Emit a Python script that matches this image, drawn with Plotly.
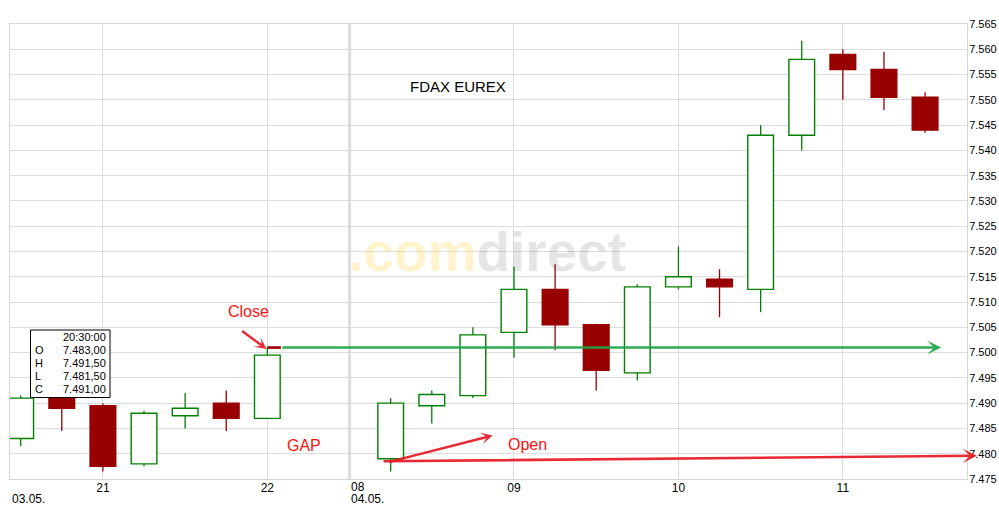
import plotly.graph_objects as go

# ---------------- data ----------------
day1_times = ["20:30", "20:45", "21:00", "21:15", "21:30", "21:45", "22:00"]
day1_open = [7483.0, 7491.5, 7489.5, 7478.0, 7487.5, 7490.0, 7487.0]
day1_high = [7491.5, 7492.5, 7490.0, 7488.5, 7492.0, 7492.5, 7501.0]
day1_low = [7481.5, 7484.5, 7476.5, 7477.5, 7485.0, 7484.5, 7487.0]
day1_close = [7491.0, 7489.0, 7477.5, 7488.0, 7489.0, 7487.0, 7499.5]

day2_times = ["08:15", "08:30", "08:45", "09:00", "09:15", "09:30", "09:45",
              "10:00", "10:15", "10:30", "10:45", "11:00", "11:15", "11:30"]
day2_open = [7479.0, 7489.5, 7491.5, 7504.0, 7512.5, 7505.5, 7496.0,
             7513.0, 7514.5, 7512.5, 7543.0, 7559.0, 7556.0, 7550.5]
day2_high = [7491.0, 7492.5, 7505.0, 7517.0, 7517.5, 7505.7, 7513.5,
             7521.0, 7516.5, 7545.0, 7561.7, 7560.0, 7559.5, 7551.5]
day2_low = [7476.5, 7486.0, 7491.0, 7499.0, 7500.5, 7492.5, 7494.5,
            7512.5, 7507.0, 7508.0, 7540.0, 7550.0, 7548.0, 7543.5]
day2_close = [7490.0, 7491.7, 7503.5, 7512.5, 7505.5, 7496.5, 7513.0,
              7515.0, 7513.0, 7543.0, 7558.0, 7556.0, 7550.5, 7544.0]

hour_ticks = ["21", "22", "09", "10", "11"]
hour_tick_times = [("d1", "21:00"), ("d1", "22:00"), ("d2", "09:00"), ("d2", "10:00"), ("d2", "11:00")]
day_labels = ["03.05.", "04.05."]
tooltip_time = "20:30:00"

close_level = 7501.0   # previous day close
open_level = day2_open[0]

y_ticks = list(range(7475, 7566, 5))

# ---------------- helpers ----------------
def minutes(t):
    h, m = t.split(":")
    return int(h) * 60 + int(m)

D1_START = minutes("20:30")
D2_START = minutes("08:00")
D2_OFFSET = 8  # slot of 08:00 on the compressed time axis


def slot(day, t):
    if day == "d1":
        return (minutes(t) - D1_START) / 15
    return D2_OFFSET + (minutes(t) - D2_START) / 15


xs = [slot("d1", t) for t in day1_times] + [slot("d2", t) for t in day2_times]
O = day1_open + day2_open
H = day1_high + day2_high
L = day1_low + day2_low
C = day1_close + day2_close

GREEN = "#008000"
RED = "#990000"

up = [c >= o for o, c in zip(O, C)]
base = [min(o, c) for o, c in zip(O, C)]
height = [abs(c - o) for o, c in zip(O, C)]
fill = ["white" if u else RED for u in up]
edge = [GREEN if u else RED for u in up]

fig = go.Figure()

# wicks
for flag, col in [(True, GREEN), (False, RED)]:
    wx, wy = [], []
    for x, o, h, l, c, u in zip(xs, O, H, L, C, up):
        if u != flag:
            continue
        top = max(o, c)
        bot = min(o, c)
        wx += [x, x, None, x, x, None]
        wy += [h, top, None, bot, l, None]
    fig.add_trace(go.Scatter(x=wx, y=wy, mode="lines", cliponaxis=False,
                             line=dict(color=col, width=1.3),
                             hoverinfo="skip", showlegend=False))

# bodies
fig.add_trace(go.Bar(x=xs, y=height, base=base, width=0.625, cliponaxis=False,
                     marker=dict(color=fill, line=dict(color=edge, width=1.4)),
                     hoverinfo="skip", showlegend=False))

# ---------------- layout ----------------
W, Hh = 999, 505
PL, PR, PT, PB = 10, 967, 24, 479   # plot area in page pixels
ML, MR, MT, MB = PL, W - PR, PT, Hh - PB
X0, X1 = -0.26, 23.02


def px(xp):
    return (xp - PL) / (PR - PL)


def py(yp):
    return (PB - yp) / (PB - PT)


FONT = "Liberation Sans, Arial, sans-serif"

fig.update_layout(
    width=W, height=Hh,
    margin=dict(l=ML, r=MR, t=MT, b=MB, autoexpand=False),
    paper_bgcolor="white", plot_bgcolor="white",
    separators=",.",
    barmode="overlay",
    showlegend=False,
    hovermode=False,
    font=dict(family=FONT, size=12, color="#000000"),
    xaxis=dict(range=[X0, X1], tickvals=[slot(d, t) for d, t in hour_tick_times],
               ticktext=hour_ticks, showgrid=True, gridcolor="#dcdcdc", gridwidth=1,
               showline=True, mirror=True, linecolor="#d6d6d6", linewidth=1,
               zeroline=False, ticks="", tickfont=dict(size=12, color="#000"),
               ticklabelstandoff=-2, automargin=False, fixedrange=True),
    yaxis=dict(range=[7475, 7565], side="right", tickvals=y_ticks, tickformat=",.0f",
               showgrid=True, gridcolor="#dcdcdc", gridwidth=1,
               showline=True, mirror=True, linecolor="#d6d6d6", linewidth=1,
               zeroline=False, ticks="", tickfont=dict(size=11, color="#000"),
               ticklabelstandoff=-1, automargin=False, fixedrange=True),
)

# day separator
fig.add_shape(type="line", xref="x", yref="paper", x0=D2_OFFSET, x1=D2_OFFSET, y0=0, y1=1,
              line=dict(color="#dddddd", width=3), layer="below")

# day labels under axis
fig.add_annotation(xref="paper", yref="paper", x=0, y=py(499.3), text=day_labels[0],
                   showarrow=False, xanchor="left", yanchor="middle", font=dict(size=12))
fig.add_annotation(xref="x", yref="paper", x=D2_OFFSET, y=py(487.5), text="08",
                   showarrow=False, xanchor="left", yanchor="middle", font=dict(size=12), xshift=-1)
fig.add_annotation(xref="x", yref="paper", x=D2_OFFSET, y=py(499.3), text=day_labels[1],
                   showarrow=False, xanchor="left", yanchor="middle", font=dict(size=12), xshift=-1)

# watermark
fig.add_annotation(xref="paper", yref="paper", x=px(487), y=py(252),
                   text="<span style='color:rgba(255,214,60,0.26)'>.com</span>"
                        "<span style='color:rgba(0,0,0,0.10)'>direct</span>",
                   showarrow=False, xanchor="center", yanchor="middle",
                   font=dict(size=55, family="Liberation Sans, Arial", weight="bold"))

# title
fig.add_annotation(xref="paper", yref="paper", x=px(458), y=py(87), text="FDAX EUREX",
                   showarrow=False, xanchor="center", yanchor="middle",
                   font=dict(size=15, color="#000"))

# arrows
ARED = "rgba(232,24,36,0.92)"
AGREEN = "rgba(30,165,70,0.92)"
fig.add_annotation(xref="x", yref="y", axref="x", ayref="y",
                   x=22.39, y=close_level, ax=6.33, ay=close_level,
                   showarrow=True, arrowhead=3, arrowsize=0.9, arrowwidth=2.6, arrowcolor=AGREEN, text="")
fig.add_shape(type="line", xref="x", yref="y", x0=xs[6], x1=6.33, y0=close_level, y1=close_level,
              line=dict(color=RED, width=2.6))
fig.add_annotation(xref="x", yref="y", axref="x", ayref="y",
                   x=23.26, y=open_level + 0.6, ax=8.79, ay=open_level - 0.5,
                   showarrow=True, arrowhead=3, arrowsize=0.9, arrowwidth=2.6, arrowcolor=ARED, text="")
fig.add_annotation(xref="x", yref="y", axref="x", ayref="y",
                   x=11.48, y=7483.6, ax=8.93, ay=open_level - 0.7,
                   showarrow=True, arrowhead=3, arrowsize=0.8, arrowwidth=2.4, arrowcolor=ARED, text="")
fig.add_annotation(xref="x", yref="y", axref="x", ayref="y",
                   x=5.98, y=7500.7, ax=5.35, ay=7504.5,
                   showarrow=True, arrowhead=3, arrowsize=0.8, arrowwidth=2.4, arrowcolor=ARED, text="")

# red labels
for txt, xp, yp in [("Close", 248.5, 311), ("GAP", 304, 445), ("Open", 527, 444)]:
    fig.add_annotation(xref="paper", yref="paper", x=px(xp), y=py(yp), text=txt,
                       showarrow=False, xanchor="center", yanchor="middle",
                       font=dict(size=16, color="#ff1010"))

# tooltip box
fig.add_shape(type="rect", xref="paper", yref="paper", x0=px(30.5), x1=px(110), y0=py(397.5), y1=py(330),
              line=dict(color="#000", width=1), fillcolor="white", layer="above")


def de(v):
    s = f"{v:,.2f}"
    return s.replace(",", "X").replace(".", ",").replace("X", ".")


rows = [("", tooltip_time), ("O", de(O[0])), ("H", de(H[0])), ("L", de(L[0])), ("C", de(C[0]))]
for i, (lab, val) in enumerate(rows):
    yy = 336.7 + i * 13.1
    if lab:
        fig.add_annotation(xref="paper", yref="paper", x=px(33), y=py(yy), text=lab,
                           showarrow=False, xanchor="left", yanchor="middle", font=dict(size=11))
    fig.add_annotation(xref="paper", yref="paper", x=px(108), y=py(yy), text=val,
                       showarrow=False, xanchor="right", yanchor="middle", font=dict(size=11))

fig.write_html("out.html", config={"displayModeBar": False},
               post_script="document.body.style.margin='0';document.body.style.overflow='hidden';")
